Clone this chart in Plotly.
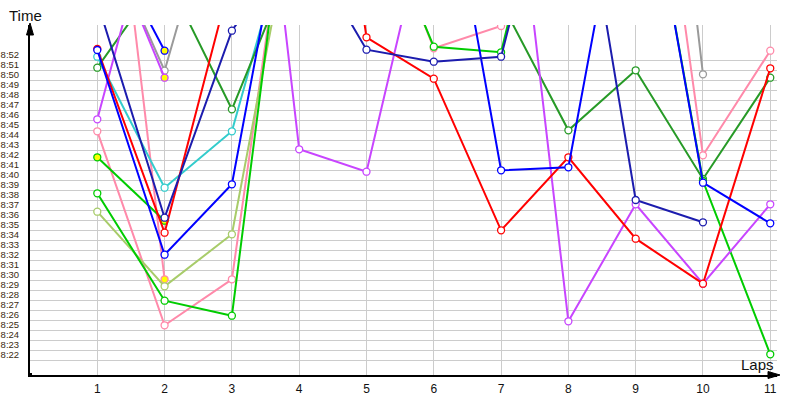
import plotly.graph_objects as go

# ---------------- data (minutes after 8:00, per lap) ----------------
laps = list(range(1, 12))
tick_minutes = list(range(22, 53))
tick_labels = [f"8:{m:02d}" for m in tick_minutes]
grid_minutes = [m + 0.5 for m in range(21, 52)]

red = [52.6, 34.23, 60.0, 100.0, 53.77, 49.63, 34.47, 41.77, 33.63, 29.13, 50.67]
blue = [52.5, 32.03, 39.07, 75.0, 77.0, 78.0, 40.47, 40.77, 77.0, 39.23, 35.17]
navy = [57.3, 35.73, 54.43, 64.0, 52.53, 51.33, 51.83, 78.0, 37.5, 35.27, None]
purple = [45.57, 70.7, 101.0, 42.57, 40.33, 68.9, 83.3, 25.37, 37.07, 29.13, 37.07]
pink = [44.37, 24.97, 29.57, 76.9, 69.6, 52.67, 54.9, 85.0, 90.7, 41.97, 52.43]
green = [38.17, 27.43, 25.93, 78.7, 69.0, 52.83, 52.27, 80.0, 77.0, 39.4, 22.07]
dark_green = [50.73, 60.2, 46.57, 63.0, 65.0, 62.0, 57.3, 44.47, 50.47, 39.6, 49.73]
gray = [65.6, 50.43, 73.8, 80.0, 85.0, 90.0, 95.0, 100.0, 108.0, 50.07, None]
cyan = [51.83, 38.73, 44.37, 68.4, None, None, None, None, None, None, None]
olive = [36.33, 28.87, 34.07, 69.6, None, None, None, None, None, None, None]
green_short = [41.77, 35.43, None, None, None, None, None, None, None, None, None]
blue_short = [65.2, 52.43, None, None, None, None, None, None, None, None, None]
purple_short = [66.0, 49.73, None, None, None, None, None, None, None, None, None]
pink_short = [86.5, 29.57, None, None, None, None, None, None, None, None, None]

# laps whose marker is filled yellow
green_short_yellow = [1, 2]
blue_short_yellow = [2]
purple_short_yellow = [2]
pink_short_yellow = [2]

series = [
    (gray, "#9a9a9a", []),
    (pink_short, "#ff8aaa", pink_short_yellow),
    (pink, "#ff8aaa", []),
    (olive, "#a8cc6a", []),
    (cyan, "#33cccc", []),
    (dark_green, "#279a27", []),
    (green, "#00cc00", []),
    (green_short, "#00cc00", green_short_yellow),
    (purple_short, "#c845ff", purple_short_yellow),
    (purple, "#c845ff", []),
    (blue_short, "#0000ff", blue_short_yellow),
    (red, "#ff0000", []),
    (blue, "#0000ff", []),
    (navy, "#1c1cae", []),
]

fig = go.Figure()
for values, color, yellow in series:
    fills = ["#ffff00" if lap in yellow else "#ffffff" for lap in laps]
    fig.add_trace(go.Scatter(
        x=laps, y=values, mode="lines+markers",
        line=dict(color=color, width=2),
        marker=dict(symbol="circle", size=7, color=fills,
                    line=dict(color=color, width=1.3)),
        connectgaps=False, hoverinfo="skip", showlegend=False,
    ))

W, H = 800, 400
PX0, PX1, PY0, PY1 = 30, 777, 25, 375          # plot area in page pixels
L, R, T, B = PX0, W - PX1, PY0, H - PY1
pw, ph = PX1 - PX0, PY1 - PY0


def fx(px):
    return (px - PX0) / pw


def fy(py):
    return (PY1 - py) / ph


shapes = [
    dict(type="path", xref="paper", yref="paper",
         path=f"M {fx(30)},{fy(23)} L {fx(26.5)},{fy(35)} L {fx(33.5)},{fy(35)} Z",
         fillcolor="black", line=dict(color="black", width=1)),
    dict(type="path", xref="paper", yref="paper",
         path=f"M {fx(780)},{fy(375)} L {fx(768)},{fy(371.5)} L {fx(768)},{fy(378.5)} Z",
         fillcolor="black", line=dict(color="black", width=1)),
    dict(type="rect", xref="paper", yref="paper",
         x0=fx(28), x1=fx(32), y0=fy(377), y1=fy(373),
         fillcolor="black", line=dict(width=0)),
]

annotations = [
    dict(text="Time", xref="paper", yref="paper", x=fx(7), y=fy(15),
         xanchor="left", yanchor="middle", showarrow=False,
         font=dict(family="Liberation Sans", size=15, color="#111")),
    dict(text="Laps", xref="paper", yref="paper", x=fx(776), y=fy(364),
         xanchor="right", yanchor="middle", showarrow=False,
         font=dict(family="Liberation Sans", size=15, color="#111")),
]

fig.update_layout(
    width=W, height=H,
    margin=dict(l=L, r=R, t=T, b=B, pad=0),
    paper_bgcolor="white", plot_bgcolor="white",
    shapes=shapes, annotations=annotations,
    xaxis=dict(range=[0, 11.1], tickmode="array", tickvals=laps,
               ticktext=[str(l) for l in laps], automargin=False,
               showgrid=True, gridcolor="#cccccc", gridwidth=1,
               showline=True, linecolor="black", linewidth=2,
               zeroline=False, ticks="", ticklabelstandoff=2,
               tickfont=dict(family="Liberation Sans", size=12, color="#111")),
    yaxis=dict(range=[20, 55], tickmode="array", tickvals=tick_minutes,
               ticktext=tick_labels, showgrid=False, automargin=False,
               minor=dict(tickmode="array", tickvals=grid_minutes, showgrid=True,
                          gridcolor="#cccccc", gridwidth=1, ticks=""),
               showline=True, linecolor="black", linewidth=2,
               zeroline=False, ticks="", ticklabelstandoff=7,
               tickfont=dict(family="Liberation Sans", size=9.5, color="#3a2a10")),
)

fig.write_html("out.html",
               config={"displayModeBar": False},
               post_script="document.body.style.margin='0';"
                           "document.body.style.overflow='hidden';")
